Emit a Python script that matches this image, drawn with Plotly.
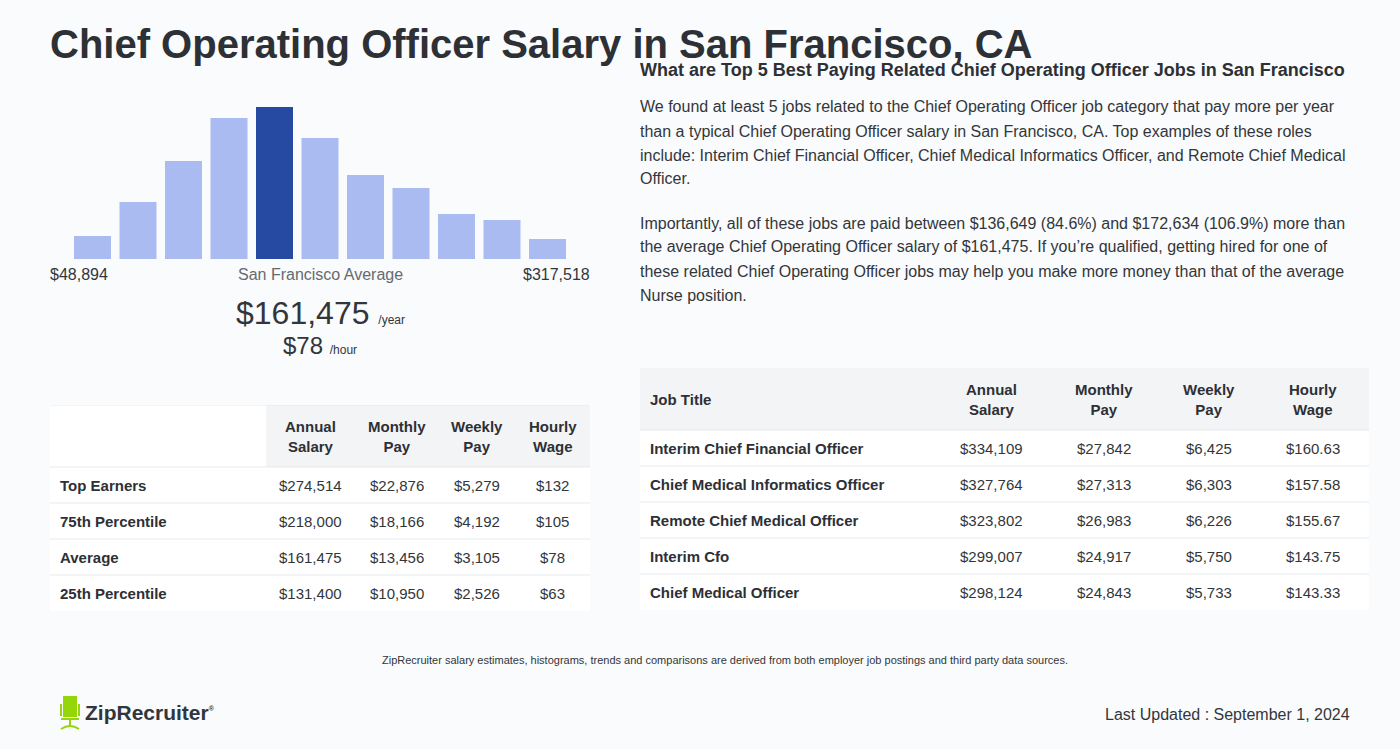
import plotly.graph_objects as go

W, H = 1400, 749
FONT = "Liberation Sans, Arial, sans-serif"
DARK = "#2d3035"
TXT = "#333639"
BG = "#f9fbfd"
HEAD_BG = "#f3f4f6"
LINE = "#e6e9ed"

# ---------------- data ----------------
hist_bins = list(range(11))
hist_heights = [23, 57, 98, 141, 152, 121, 84, 71, 45, 39, 20]
avg_bin = 4
hist_min_label = "$48,894"
hist_max_label = "$317,518"
avg_annual = "$161,475"
avg_hourly = "$78"

pct_rows = ["Top Earners", "75th Percentile", "Average", "25th Percentile"]
pct_annual = ["$274,514", "$218,000", "$161,475", "$131,400"]
pct_monthly = ["$22,876", "$18,166", "$13,456", "$10,950"]
pct_weekly = ["$5,279", "$4,192", "$3,105", "$2,526"]
pct_hourly = ["$132", "$105", "$78", "$63"]

job_titles = ["Interim Chief Financial Officer", "Chief Medical Informatics Officer",
              "Remote Chief Medical Officer", "Interim Cfo", "Chief Medical Officer"]
job_annual = ["$334,109", "$327,764", "$323,802", "$299,007", "$298,124"]
job_monthly = ["$27,842", "$27,313", "$26,983", "$24,917", "$24,843"]
job_weekly = ["$6,425", "$6,303", "$6,226", "$5,750", "$5,733"]
job_hourly = ["$160.63", "$157.58", "$155.67", "$143.75", "$143.33"]

col_headers = ["Annual<br>Salary", "Monthly<br>Pay", "Weekly<br>Pay", "Hourly<br>Wage"]

title = "Chief Operating Officer Salary in San Francisco, CA"
subtitle = "What are Top 5 Best Paying Related Chief Operating Officer Jobs in San Francisco"
para1 = ["We found at least 5 jobs related to the Chief Operating Officer job category that pay more per year",
         "than a typical Chief Operating Officer salary in San Francisco, CA. Top examples of these roles",
         "include: Interim Chief Financial Officer, Chief Medical Informatics Officer, and Remote Chief Medical",
         "Officer."]
para2 = ["Importantly, all of these jobs are paid between $136,649 (84.6%) and $172,634 (106.9%) more than",
         "the average Chief Operating Officer salary of $161,475. If you\u2019re qualified, getting hired for one of",
         "these related Chief Operating Officer jobs may help you make more money than that of the average",
         "Nurse position."]
footnote = "ZipRecruiter salary estimates, histograms, trends and comparisons are derived from both employer job postings and third party data sources."
updated = "Last Updated : September 1, 2024"

# ---------------- styles / sizes ----------------
left_colw = [216, 89, 83, 77, 75]
right_colw = [295, 112, 113, 97, 112]
HEAD_H, ROW_H = 62, 36
PAD = 8


def px(x):
    return x / W


def py(y):
    return 1 - y / H


fig = go.Figure()

# ---------------- histogram ----------------
bar_colors = ["#2649a2" if i == avg_bin else "#a9bbf0" for i in hist_bins]
fig.add_trace(go.Bar(x=hist_bins, y=hist_heights, marker=dict(color=bar_colors, line=dict(width=0)),
                     hoverinfo="skip", showlegend=False))

ann = []
shapes = []


def text(x, y, s, size, color=TXT, anchor="left", weight="normal", xref="paper", yref="paper"):
    ann.append(dict(x=x, y=y, xref=xref, yref=yref, text=s, showarrow=False,
                    xanchor=anchor, yanchor="middle", align="center",
                    font=dict(family=FONT, size=size, color=color, weight=weight)))


def ptext(x, y, s, size, color=TXT, anchor="left", weight="normal"):
    text(px(x), py(y), s, size, color, anchor, weight)


# ---------------- tables (own hidden axes, units = px) ----------------
def build_table(axn, colw, headers, columns, first_head_white):
    xr, yr = f"x{axn}", f"y{axn}"
    edges = [0]
    for w in colw:
        edges.append(edges[-1] + w)
    centers = [(edges[i] + edges[i + 1]) / 2 for i in range(len(colw))]
    nrows = len(columns[0])
    total = HEAD_H + ROW_H * nrows
    hx0 = edges[1] if first_head_white else 0
    shapes.append(dict(type="rect", xref=xr, yref=yr, x0=0, x1=edges[-1], y0=0, y1=total,
                       fillcolor="#ffffff", line=dict(width=0), layer="below"))
    shapes.append(dict(type="rect", xref=xr, yref=yr, x0=hx0, x1=edges[-1], y0=0, y1=HEAD_H,
                       fillcolor=HEAD_BG, line=dict(width=0), layer="below"))
    seps = [0] if first_head_white else []
    seps += [HEAD_H + ROW_H * i for i in range(nrows)]
    for yv in seps:
        shapes.append(dict(type="line", xref=xr, yref=yr, x0=0, x1=edges[-1], y0=yv, y1=yv,
                           line=dict(color=LINE, width=1), layer="below"))
    for j, h in enumerate(headers):
        if not h:
            continue
        if j == 0:
            text(PAD, HEAD_H / 2, h, 15, DARK, "left", "bold", xr, yr)
        else:
            text(centers[j], HEAD_H / 2, h, 15, DARK, "center", "bold", xr, yr)
    for j, col in enumerate(columns):
        for i, v in enumerate(col):
            yc = HEAD_H + ROW_H * i + ROW_H / 2
            if j == 0:
                text(PAD, yc, v, 15, DARK, "left", "bold", xr, yr)
            else:
                text(centers[j], yc, v, 15, TXT, "center", "normal", xr, yr)
    return edges[-1], total


lw, lt = build_table(2, left_colw, [""] + col_headers,
                     [pct_rows, pct_annual, pct_monthly, pct_weekly, pct_hourly], True)
rw, rt = build_table(3, right_colw, ["Job Title"] + col_headers,
                     [job_titles, job_annual, job_monthly, job_weekly, job_hourly], False)

# ---------------- text ----------------
ptext(48, 44, title, 40, DARK, weight="bold")
ptext(638, 70, subtitle, 18, DARK, weight="bold")
for i, line in enumerate(para1):
    ptext(638, 107 + 24 * i, line, 16)
for i, line in enumerate(para2):
    ptext(638, 223 + 24 * i, line, 16)

ptext(48, 275, hist_min_label, 16)
ptext(320, 275, "San Francisco Average", 16, "#666a6e", anchor="center")
ptext(592, 275, hist_max_label, 16, anchor="right")
ptext(320, 313, avg_annual + " <span style='font-size:12px'>/year</span>", 32, anchor="center")
ptext(320, 345, avg_hourly + " <span style='font-size:12px'>/hour</span>", 24, anchor="center")

ptext(725, 660, footnote, 11, anchor="center")
ptext(1352, 714, updated, 16, anchor="right")
ptext(83, 712, "ZipRecruiter<sup><span style='font-size:7px'>\u00ae</span></sup>", 21, "#30363c", weight="bold")

# ---------------- logo shapes ----------------
GREEN = "#94d60a"
logo = [
    dict(type="rect", x0=px(63), x1=px(77), y0=py(717), y1=py(696), fillcolor=GREEN, line=dict(width=0)),
    dict(type="line", x0=px(61), x1=px(61), y0=py(704), y1=py(716), line=dict(color=GREEN, width=2)),
    dict(type="line", x0=px(79), x1=px(79), y0=py(704), y1=py(716), line=dict(color=GREEN, width=2)),
    dict(type="line", x0=px(61), x1=px(79), y0=py(719), y1=py(719), line=dict(color=GREEN, width=2)),
    dict(type="line", x0=px(70), x1=px(70), y0=py(719), y1=py(727), line=dict(color=GREEN, width=2)),
    dict(type="path", path=f"M {px(61)},{py(729)} Q {px(70)},{py(723)} {px(79)},{py(729)}",
         line=dict(color=GREEN, width=2)),
]
for s in logo:
    s.update(xref="paper", yref="paper")
shapes += logo

hidden = dict(visible=False, fixedrange=True, showgrid=False, zeroline=False)
fig.update_layout(
    width=W, height=H, margin=dict(l=0, r=0, t=0, b=0),
    paper_bgcolor=BG, plot_bgcolor="rgba(0,0,0,0)",
    bargap=0.187, showlegend=False,
    xaxis=dict(domain=[69.75 / W, 570.25 / W], range=[-0.5, 10.5], **hidden),
    yaxis=dict(domain=[py(259), py(99)], range=[0, 160], **hidden),
    xaxis2=dict(domain=[px(50), px(50 + lw)], range=[0, lw], anchor="y2", **hidden),
    yaxis2=dict(domain=[py(405 + lt), py(405)], range=[lt, 0], anchor="x2", **hidden),
    xaxis3=dict(domain=[px(640), px(640 + rw)], range=[0, rw], anchor="y3", **hidden),
    yaxis3=dict(domain=[py(368 + rt), py(368)], range=[rt, 0], anchor="x3", **hidden),
    annotations=ann, shapes=shapes,
)

fig.write_html("out.html", config={"displayModeBar": False, "staticPlot": True},
               post_script="document.body.style.margin='0px';document.body.style.background='%s';" % BG)
